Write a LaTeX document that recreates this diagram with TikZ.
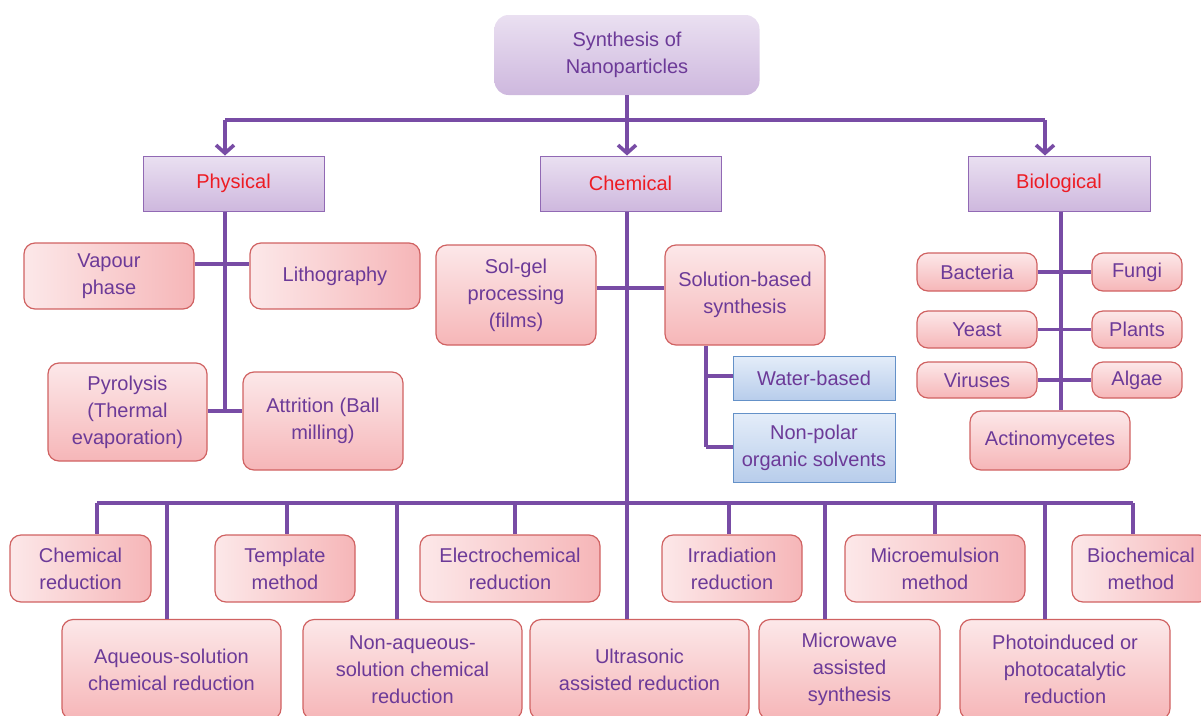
\documentclass[tikz,border=0pt]{standalone}
\usepackage{fontspec}
\setmainfont{Liberation Sans}
\usetikzlibrary{arrows.meta}
\definecolor{linec}{RGB}{120,76,165}
\definecolor{txtc}{RGB}{108,58,152}
\definecolor{redt}{RGB}{237,28,36}
\definecolor{pinkb}{RGB}{208,98,98}
\definecolor{pinkl}{RGB}{252,232,233}
\definecolor{pinkd}{RGB}{246,182,184}
\definecolor{lavl}{RGB}{234,224,241}
\definecolor{lavd}{RGB}{206,184,222}
\definecolor{lavb}{RGB}{145,105,180}
\definecolor{bluel}{RGB}{228,237,249}
\definecolor{blued}{RGB}{184,205,235}
\definecolor{blueb}{RGB}{100,145,200}
\tikzset{
  base/.style={align=center, text=txtc, font=\fontsize{20}{27}\selectfont, inner sep=2pt},
  pinkh/.style={base, draw=pinkb, line width=1.2pt, rounded corners=11pt, left color=pinkl, right color=pinkd},
  pinkv/.style={base, draw=pinkb, line width=1.2pt, rounded corners=11pt, top color=pinkl, bottom color=pinkd},
  catbox/.style={base, text=redt, draw=lavb, line width=1pt, top color=lavl, bottom color=lavd},
  bluebox/.style={base, draw=blueb, line width=1pt, top color=bluel, bottom color=blued},
  ln/.style={draw=linec, line width=3.6pt},
  arr/.style={ln, -{Straight Barb[length=8pt,width=18pt]}},
}
\begin{document}
\begin{tikzpicture}[x=1pt,y=-1pt]
\useasboundingbox (0,0) rectangle (1201,715);
\clip (0,0) rectangle (1201,715);
% title
\node[base, rounded corners=14pt, top color=lavl, bottom color=lavd, minimum width=265pt, minimum height=80pt] (syn) at (627,55) {Synthesis of\\Nanoparticles};
% categories
\node[catbox, minimum width=181pt, minimum height=55pt] (phys) at (233.5,183.5) {Physical};
\node[catbox, minimum width=181pt, minimum height=55pt] (chem) at (630.5,183.5) {Chemical};
\node[catbox, minimum width=182pt, minimum height=55pt] (bio) at (1059,183.5) {Biological};
% physical
\node[pinkh, minimum width=170pt, minimum height=66pt] (vap) at (109,276) {Vapour\\phase};
\node[pinkh, minimum width=170pt, minimum height=66pt] (lith) at (335,276) {Lithography};
\node[pinkv, minimum width=159pt, minimum height=98pt] (pyro) at (127.5,412) {Pyrolysis\\(Thermal\\evaporation)};
\node[pinkv, minimum width=160pt, minimum height=98pt] (attr) at (323,421) {Attrition (Ball\\milling)};
% chemical
\node[pinkv, minimum width=160pt, minimum height=100pt] (sol) at (516,295) {Sol-gel\\processing\\(films)};
\node[pinkv, minimum width=160pt, minimum height=100pt] (solb) at (745,295) {Solution-based\\synthesis};
\node[bluebox, minimum width=162pt, minimum height=44pt] (water) at (814,378) {Water-based};
\node[bluebox, minimum width=162pt, minimum height=69pt] (npol) at (814,447.5) {Non-polar\\organic solvents};
% biological
\node[pinkv, minimum width=120pt, minimum height=38pt] (bact) at (977,272) {Bacteria};
\node[pinkv, minimum width=90pt, minimum height=38pt] (fungi) at (1137,272) {Fungi};
\node[pinkv, minimum width=120pt, minimum height=37pt] (yeast) at (977,329.5) {Yeast};
\node[pinkv, minimum width=90pt, minimum height=37pt] (plants) at (1137,329.5) {Plants};
\node[pinkv, minimum width=120pt, minimum height=36pt] (vir) at (977,380) {Viruses};
\node[pinkv, minimum width=90pt, minimum height=36pt] (algae) at (1137,380) {Algae};
\node[pinkv, minimum width=160pt, minimum height=59pt] (actino) at (1050,440.5) {Actinomycetes};
% bottom row 1
\node[pinkh, minimum width=141pt, minimum height=67pt] (chred) at (80.5,568.5) {Chemical\\reduction};
\node[pinkh, minimum width=140pt, minimum height=67pt] (templ) at (285,568.5) {Template\\method};
\node[pinkh, minimum width=180pt, minimum height=67pt] (electro) at (510,568.5) {Electrochemical\\reduction};
\node[pinkh, minimum width=140pt, minimum height=67pt] (irrad) at (732,568.5) {Irradiation\\reduction};
\node[pinkh, minimum width=180pt, minimum height=67pt] (micro) at (935,568.5) {Microemulsion\\method};
\node[pinkh, minimum width=138pt, minimum height=67pt] (bioch) at (1141,568.5) {Biochemical\\method};
% bottom row 2
\node[pinkv, minimum width=219pt, minimum height=100pt] (aq) at (171.5,669.5) {Aqueous-solution\\chemical reduction};
\node[pinkv, minimum width=219pt, minimum height=100pt] (naq) at (412.5,669.5) {Non-aqueous-\\solution chemical\\reduction};
\node[pinkv, minimum width=219pt, minimum height=100pt] (ultra) at (639.5,669.5) {Ultrasonic\\assisted reduction};
\node[pinkv, minimum width=181pt, minimum height=100pt] (mw) at (849.5,669.5) {Microwave\\assisted\\synthesis};
\node[pinkv, minimum width=210pt, minimum height=100pt] (photo) at (1065,669.5) {Photoinduced or\\photocatalytic\\reduction};
% top connectors
\draw[ln] (syn.south) -- (627,120);
\draw[ln] (225,120) -- (1045,120);
\draw[arr] (225,120) -- (phys.north -| 225,0);
\draw[arr] (627,120) -- (chem.north -| 627,0);
\draw[arr] (1045,120) -- (bio.north -| 1045,0);
% physical connectors
\draw[ln] (phys.south -| 225,0) -- (225,411);
\draw[ln] (vap.east |- 0,264) -- (lith.west |- 0,264);
\draw[ln] (pyro.east |- 0,411) -- (attr.west |- 0,411);
% chemical connectors
\draw[ln] (chem.south -| 627,0) -- (ultra.north -| 627,0);
\draw[ln] (sol.east |- 0,288) -- (solb.west |- 0,288);
\draw[ln] (solb.south -| 706,0) -- (706,447);
\draw[ln] (706,376) -- (water.west |- 0,376);
\draw[ln] (706,447) -- (npol.west |- 0,447);
% bottom bus
\draw[ln] (97,503) -- (1133,503);
\draw[ln] (97,503) -- (chred.north -| 97,0);
\draw[ln] (287,503) -- (templ.north -| 287,0);
\draw[ln] (515,503) -- (electro.north -| 515,0);
\draw[ln] (729,503) -- (irrad.north -| 729,0);
\draw[ln] (935,503) -- (micro.north -| 935,0);
\draw[ln] (1133,503) -- (bioch.north -| 1133,0);
\draw[ln] (167,503) -- (aq.north -| 167,0);
\draw[ln] (397,503) -- (naq.north -| 397,0);
\draw[ln] (825,503) -- (mw.north -| 825,0);
\draw[ln] (1045,503) -- (photo.north -| 1045,0);
% biological connectors
\draw[ln] (bio.south -| 1061,0) -- (actino.north -| 1061,0);
\draw[ln] (bact.east) -- (fungi.west);
\draw[ln] (yeast.east) -- (plants.west);
\draw[ln] (vir.east) -- (algae.west);
\end{tikzpicture}
\end{document}
